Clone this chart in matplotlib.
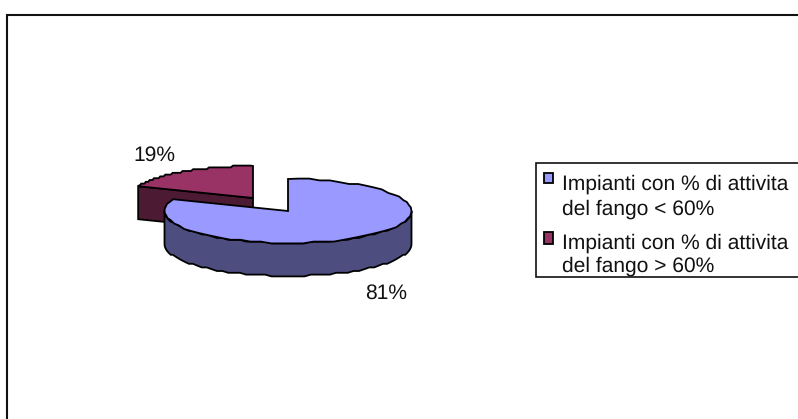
import numpy as np
import matplotlib
matplotlib.use("Agg")
import matplotlib.pyplot as plt
from matplotlib.patches import Polygon, Rectangle

# data
labels = ["Impianti con % di attivita\ndel fango < 60%", "Impianti con % di attivita\ndel fango > 60%"]
shares = [81, 19]
pct_labels = ["81%", "19%"]
colors = ["#9999FF", "#993366"]
side_colors = ["#4D4D80", "#4D1A33"]

W, H = 798, 419
plt.rcParams["font.family"] = ["Liberation Sans"]
plt.rcParams["text.hinting"] = "no_hinting"
plt.rcParams["text.hinting_factor"] = 1
fig = plt.figure(figsize=(W / 100, H / 100), dpi=100)
ax = fig.add_axes([0, 0, 1, 1])
ax.set_xlim(0, W)
ax.set_ylim(H, 0)
ax.axis("off")

# chart frame, only top and left show in the reference
ax.plot([W, 7, 7], [15, 15, H], color="#111111", lw=1.5, solid_joinstyle="miter")

rx, ry, depth = 123.5, 32, 33
cx, cy = 288, 211
ex, ey = -35, -13  # offset of the pulled out slice
lw = 1.3


def rim(a0, a1, x0, y0):
    # points on the ellipse, angle clockwise from 12 o'clock
    # y is snapped to a coarse grid to get the stepped outline of the original
    t = np.radians(np.linspace(a0, a1, 60))
    y = y0 - ry * np.cos(t)
    y[1:-1] = y0 + np.round((y[1:-1] - y0) / 1.8) * 1.8
    return np.column_stack([x0 + rx * np.sin(t), y])


end = shares[0] / sum(shares) * 360

# red slice first, it sits behind
x1, y1 = cx + ex, cy + ey
r = rim(end, 360, x1, y1)
ax.add_patch(Polygon([(x1, y1), r[0], r[0] + [0, depth], (x1, y1 + depth)],
                     fc=side_colors[1], ec="black", lw=lw, joinstyle="miter"))
ax.add_patch(Polygon(np.vstack([[(x1, y1)], r]), fc=colors[1], ec="black", lw=lw, joinstyle="miter"))

# blue slice, wall then top
front = rim(90, 270, cx, cy)
ax.add_patch(Polygon(np.vstack([front, front[::-1] + [0, depth]]),
                     fc=side_colors[0], ec="black", lw=lw, joinstyle="miter"))
b = rim(0, end, cx, cy)
ax.add_patch(Polygon(np.vstack([[(cx, cy)], b]), fc=colors[0], ec="black", lw=lw, joinstyle="miter"))

ax.text(386.5, 293, pct_labels[0], fontsize=15.35, ha="center", va="center", color="#111111")
ax.text(154.5, 155, pct_labels[1], fontsize=15.35, ha="center", va="center", color="#111111")

# legend box runs off the right side
ax.plot([W, 535.5, 535.5, W], [163.5, 163.5, 277, 277], color="#111111", lw=1.2, solid_joinstyle="miter")
swatch_y = [173.5, 231.5]
swatch_h = [9.5, 12]
text_y = [196.5, 255]
spacing = [1.35, 1.25]
for i, (lab, col) in enumerate(zip(labels, colors)):
    ax.add_patch(Rectangle((543.5, swatch_y[i]), 9.5, swatch_h[i], fc=col, ec="black", lw=1.3))
    ax.text(561.5, text_y[i], lab, fontsize=15.35, ha="left", va="center", color="#111111",
            linespacing=spacing[i])

fig.savefig("out.png", dpi=100)
